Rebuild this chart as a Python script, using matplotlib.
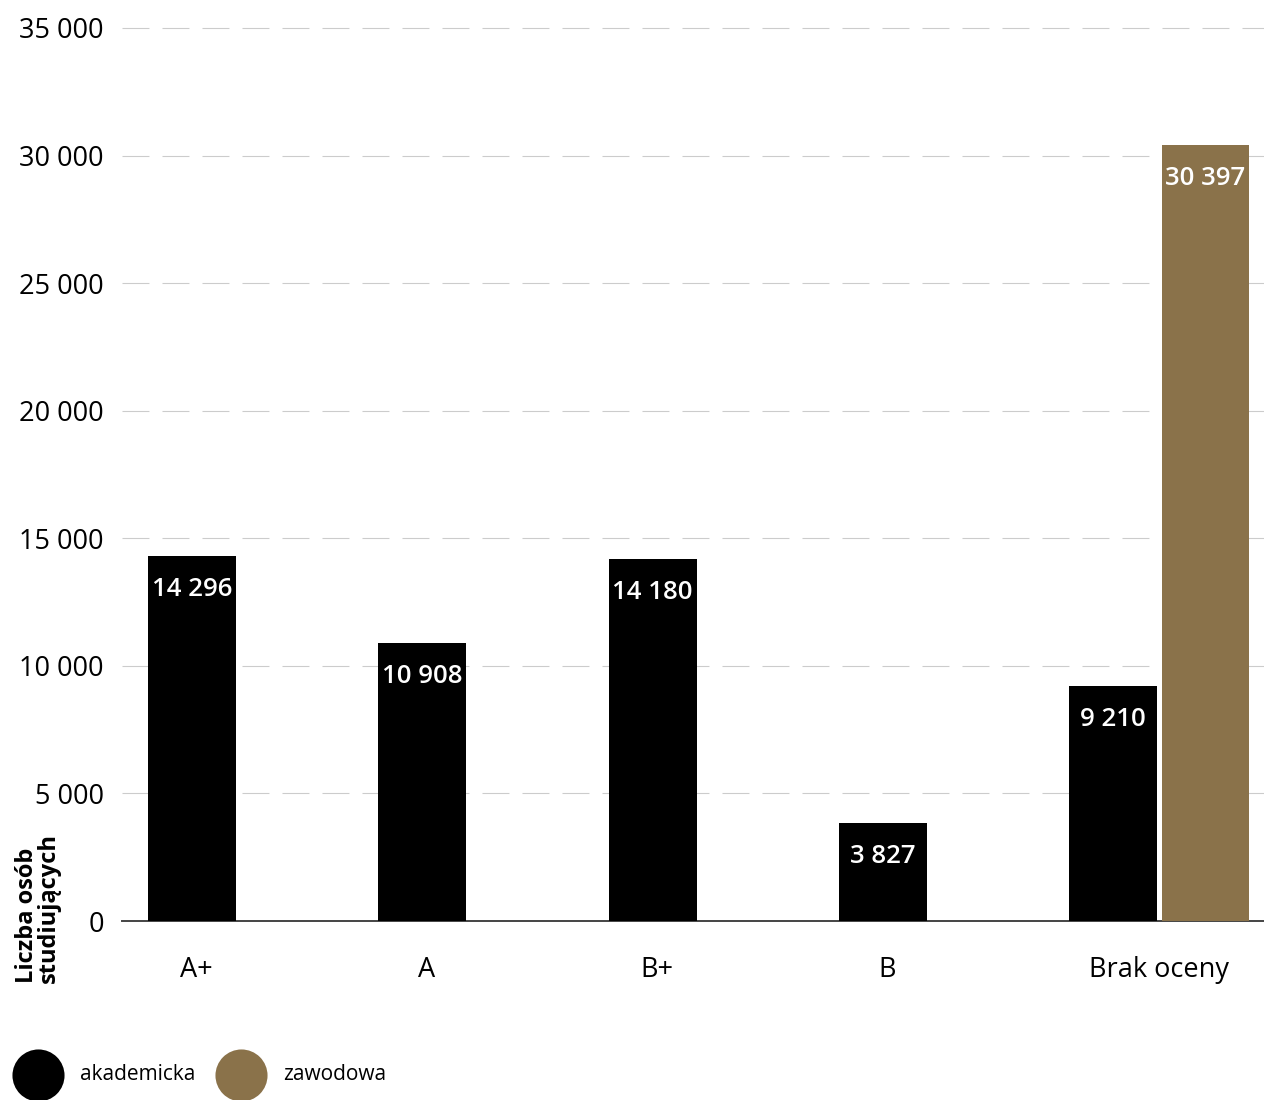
import numpy as np
import matplotlib
matplotlib.use("Agg")
import matplotlib.pyplot as plt
from matplotlib.lines import Line2D

categories = ["A+", "A", "B+", "B", "Brak oceny"]
akademicka = [14296, 10908, 14180, 3827, 9210]
zawodowa = [0, 0, 0, 0, 30397]
series_names = ["akademicka", "zawodowa"]
series_colors = ["#000000", "#8a724a"]
y_ticks = [0, 5000, 10000, 15000, 20000, 25000, 30000, 35000]

plt.rcParams['font.family'] = ['Open Sans', 'DejaVu Sans']
plt.rcParams['lines.scale_dashes'] = False


def fmt(v):
    return f"{v:,}".replace(",", " ")


fig = plt.figure(figsize=(12.64, 11), dpi=100)
ax = fig.add_axes([122 / 1264, 179 / 1100, 1142 / 1264, 893 / 1100])

# bar positions: single bar centred, Brak oceny has two bars side by side
pos_ak = np.array([0, 1, 2, 3, 4.0])
pos_za = np.array([4.4])
tick_pos = [0.017, 1.017, 2.017, 3.017, 4.2]
w = 0.382

b1 = ax.bar(pos_ak, akademicka, width=w, color=series_colors[0], zorder=3)
b2 = ax.bar(pos_za, [zawodowa[4]], width=w, color=series_colors[1], zorder=3)

for bars, vals in [(b1, akademicka), (b2, [zawodowa[4]])]:
    for rect, v in zip(bars, vals):
        ax.annotate(fmt(v), (rect.get_x() + rect.get_width() / 2, v),
                    xytext=(0, -24), textcoords="offset points",
                    ha="center", va="center", color="white",
                    fontsize=18.5, fontweight="semibold", zorder=4)

ax.set_xlim(-0.304, 4.654)
ax.set_ylim(0, 35000)
ax.set_yticks(y_ticks)
ax.set_yticklabels([fmt(t) for t in y_ticks], fontsize=19.5)
ax.set_xticks(tick_pos)
ax.set_xticklabels(categories, fontsize=19.5)
ax.tick_params(axis="y", length=0, pad=13)
ax.tick_params(axis="x", length=0, pad=25)

for t in y_ticks[1:]:
    ax.axhline(t, color="#cccccc", lw=0.8, ls=(0, (19.4, 9.4)), zorder=1,
               clip_on=False)

for s in ["top", "right", "left"]:
    ax.spines[s].set_visible(False)
ax.spines["bottom"].set_color("#444444")
ax.spines["bottom"].set_linewidth(1.4)

fig.text(38 / 1264, 1 - 983 / 1100, "Liczba osób\nstudiujących", rotation=90,
         ha="center", va="bottom", multialignment="left",
         fontsize=17, fontweight="bold", linespacing=0.85)

# legend
leg_x = [38, 241]
for x, name, c in zip(leg_x, series_names, series_colors):
    fig.add_artist(Line2D([x / 1264], [1 - 1075 / 1100], marker="o",
                          markersize=37.5, color=c, markeredgewidth=0,
                          transform=fig.transFigure))
    fig.text((x + 42) / 1264, 1 - 1075 / 1100, name, ha="left", va="center",
             fontsize=15)

fig.savefig("out.png", dpi=100)
